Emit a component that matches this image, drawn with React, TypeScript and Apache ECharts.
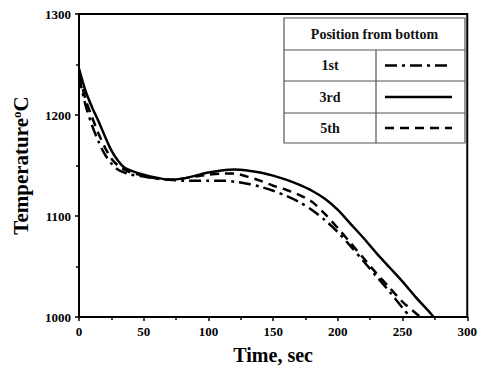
import React, { useEffect, useRef } from "react";
import * as echarts from "echarts";

const time1 = [0, 5, 10, 15, 20, 25, 30, 35, 40, 50, 60, 70, 80, 90, 100, 110, 120, 130, 140, 150, 160, 170, 180, 190, 200, 210, 220, 230, 240, 250, 256];
const temp1 = [1238, 1210, 1190, 1174, 1161, 1152, 1146, 1143, 1141, 1139, 1137, 1136, 1135, 1135, 1135, 1135, 1134, 1132, 1129, 1125, 1120, 1114, 1106, 1096, 1084, 1070, 1055, 1040, 1025, 1009, 1000];

const time3 = [0, 5, 10, 15, 20, 25, 30, 35, 40, 50, 60, 70, 80, 90, 100, 110, 120, 130, 140, 150, 160, 170, 180, 190, 200, 210, 220, 230, 240, 250, 260, 270, 274];
const temp3 = [1246, 1224, 1208, 1194, 1179, 1165, 1155, 1148, 1145, 1141, 1138, 1136, 1137, 1140, 1143, 1145, 1146, 1145, 1143, 1140, 1136, 1131, 1125, 1117, 1106, 1092, 1078, 1063, 1049, 1035, 1020, 1006, 1000];

const time5 = [0, 5, 10, 15, 20, 25, 30, 35, 40, 50, 60, 70, 80, 90, 100, 110, 120, 130, 140, 150, 160, 170, 180, 190, 200, 210, 220, 230, 240, 250, 260, 264];
const temp5 = [1240, 1216, 1198, 1182, 1168, 1157, 1150, 1146, 1143, 1140, 1137, 1136, 1137, 1139, 1141, 1142, 1142, 1139, 1135, 1130, 1126, 1121, 1114, 1102, 1088, 1073, 1058, 1043, 1029, 1015, 1004, 1000];

const legendTitle = "Position from bottom";
const seriesNames = ["1st", "3rd", "5th"];

const FONT = "'Liberation Serif', 'Times New Roman', serif";

export default function App() {
  const ref = useRef<HTMLDivElement>(null);
  useEffect(() => {
    const chart = echarts.init(ref.current!, null, { renderer: "svg" });
    const zip = (a: number[], b: number[]) => a.map((v, i) => [v, b[i]]);
    const lineStyles: any[] = [
      { type: [12, 5, 3, 5], width: 2.5 },
      { type: "solid", width: 2.5 },
      { type: [9, 6], width: 2.5 },
    ];
    const datas = [zip(time1, temp1), zip(time3, temp3), zip(time5, temp5)];

    const L = 284, R = 465, T = 18;
    const rows = [18, 50, 81, 113, 143];
    const colX = 376;
    const g: any[] = [];
    g.push({ type: "rect", shape: { x: L, y: T, width: R - L, height: rows[4] - T }, style: { fill: "#fff", stroke: "#555", lineWidth: 1.2 }, z: 100 });
    for (let i = 1; i < 4; i++) {
      g.push({ type: "line", shape: { x1: L, y1: rows[i], x2: R, y2: rows[i] }, style: { stroke: "#555", lineWidth: 1.2 }, z: 101 });
    }
    g.push({ type: "line", shape: { x1: colX, y1: rows[1], x2: colX, y2: rows[4] }, style: { stroke: "#555", lineWidth: 1.2 }, z: 101 });
    g.push({ type: "text", x: (L + R) / 2, y: (rows[0] + rows[1]) / 2, style: { text: legendTitle, font: `bold 14px ${FONT}`, fill: "#111", align: "center", verticalAlign: "middle" }, z: 102 });
    for (let i = 0; i < 3; i++) {
      const cy = (rows[i + 1] + rows[i + 2]) / 2;
      g.push({ type: "text", x: (L + colX) / 2, y: cy, style: { text: seriesNames[i], font: `bold 14px ${FONT}`, fill: "#111", align: "center", verticalAlign: "middle" }, z: 102 });
      g.push({ type: "line", shape: { x1: 385, y1: cy, x2: 452, y2: cy }, style: { stroke: "#000", lineWidth: 2.5, lineDash: i === 1 ? null : lineStyles[i].type }, z: 102 });
    }

    const fmt = (v: number) => String(v);

    chart.setOption({
      animation: false,
      grid: { left: 79, right: 12, top: 14, bottom: 57, show: true, borderColor: "#000", borderWidth: 2, backgroundColor: "transparent" },
      xAxis: {
        type: "value", min: 0, max: 300, interval: 50,
        name: "Time, sec", nameLocation: "middle", nameGap: 28,
        nameTextStyle: { fontFamily: FONT, fontWeight: "bold", fontSize: 20, color: "#000" },
        axisLine: { show: true, onZero: false, lineStyle: { color: "#000", width: 2 } },
        axisTick: { show: true, length: 4, lineStyle: { color: "#000", width: 1.5 } },
        minorTick: { show: true, splitNumber: 2, length: 3, lineStyle: { color: "#000", width: 1.5 } },
        axisLabel: { fontFamily: FONT, fontWeight: "bold", fontSize: 13, color: "#000", margin: 8, formatter: fmt },
        splitLine: { show: false },
      },
      yAxis: {
        type: "value", min: 1000, max: 1300, interval: 100,
        name: "Temperature{sup|o}C", nameLocation: "middle", nameGap: 47,
        nameTextStyle: {
          fontFamily: FONT, fontWeight: "bold", fontSize: 21, color: "#000",
          rich: { sup: { fontFamily: FONT, fontWeight: "bold", fontSize: 13, color: "#000", verticalAlign: "top", padding: [0, 0, 9, 0] } },
        },
        axisLine: { show: true, onZero: false, lineStyle: { color: "#000", width: 2 } },
        axisTick: { show: true, length: 4, lineStyle: { color: "#000", width: 1.5 } },
        minorTick: { show: true, splitNumber: 2, length: 3, lineStyle: { color: "#000", width: 1.5 } },
        axisLabel: { fontFamily: FONT, fontWeight: "bold", fontSize: 13, color: "#000", margin: 8, formatter: fmt },
        splitLine: { show: false },
      },
      series: datas.map((d, i) => ({
        type: "line", name: seriesNames[i], data: d, showSymbol: false, symbol: "none",
        smooth: 0.3, lineStyle: { color: "#000", ...lineStyles[i] }, z: 3,
      })),
      graphic: g,
    });
    return () => chart.dispose();
  }, []);
  return <div ref={ref} style={{ width: 480, height: 374, position: "absolute", left: 0, top: 0 }} />;
}
